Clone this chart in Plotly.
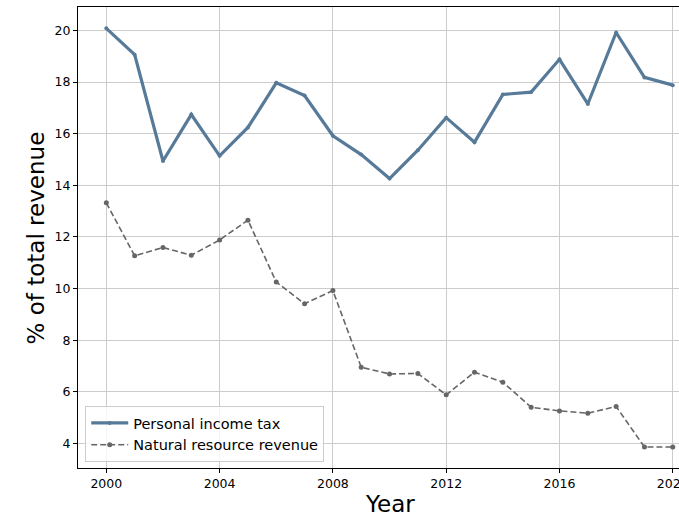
import plotly.graph_objects as go

years = list(range(2000, 2021))
personal_income_tax = [20.08, 19.06, 14.94, 16.74, 15.14, 16.24, 17.97, 17.48, 15.92, 15.19,
                       14.26, 15.36, 16.62, 15.67, 17.52, 17.61, 18.88, 17.15, 19.92, 18.18, 17.88]
natural_resource_revenue = [13.32, 11.27, 11.59, 11.29, 11.88, 12.65, 10.25, 9.41, 9.92, 6.95,
                            6.69, 6.71, 5.88, 6.76, 6.37, 5.40, 5.26, 5.17, 5.43, 3.86, 3.86]
x_ticks = [2000, 2004, 2008, 2012, 2016, 2020]
y_ticks = [4, 6, 8, 10, 12, 14, 16, 18, 20]

FONT = "DejaVu Sans"

fig = go.Figure()
fig.add_trace(go.Scatter(
    x=years, y=personal_income_tax, mode="lines+markers", name="Personal income tax",
    line=dict(color="#587a99", width=3.2),
    marker=dict(size=4, color="#587a99"),
))
fig.add_trace(go.Scatter(
    x=years, y=natural_resource_revenue, mode="lines+markers", name="Natural resource revenue",
    line=dict(color="#666666", width=1.6, dash="6px,3px"),
    marker=dict(size=5, color="#666666"),
))

axis_common = dict(
    showgrid=True, gridcolor="#cccccc", gridwidth=1,
    showline=True, linecolor="#000000", linewidth=1,
    ticks="outside", ticklen=4, tickcolor="#000000", tickwidth=1,
    tickfont=dict(family=FONT, size=12.5, color="#000000"),
    zeroline=False, automargin=False, ticklabeloverflow="allow",
)

fig.update_xaxes(
    range=[1999.0, 2020.22], tickvals=x_ticks, ticktext=[str(t) for t in x_ticks],
    mirror=True, **axis_common,
)
fig.update_yaxes(
    range=[3.047, 20.907], tickvals=y_ticks,
    **axis_common,
)

fig.add_annotation(
    x=2010, xref="x", y=-0.046, yref="paper", yanchor="top",
    text="Year", showarrow=False, font=dict(family=FONT, size=23, color="#000000"),
)
fig.add_annotation(
    x=-0.07, xref="paper", y=0.5, yref="paper", xanchor="center", yanchor="middle",
    text="% of total revenue", textangle=-90, showarrow=False,
    font=dict(family=FONT, size=23, color="#000000"),
)

fig.update_layout(
    width=679, height=517,
    margin=dict(l=78, r=0, t=7, b=49),
    plot_bgcolor="white", paper_bgcolor="white",
    font=dict(family=FONT, color="#000000"),
    legend=dict(
        x=0.012, y=0.013, xanchor="left", yanchor="bottom",
        bgcolor="rgba(255,255,255,0.8)", bordercolor="#cccccc", borderwidth=1,
        font=dict(family=FONT, size=14.5, color="#000000"),
        tracegroupgap=0, itemwidth=37,
    ),
    showlegend=True,
)

fig.write_html(
    "out.html",
    config={"displayModeBar": False},
    post_script="document.body.style.margin='0';document.body.style.overflow='hidden';",
)
